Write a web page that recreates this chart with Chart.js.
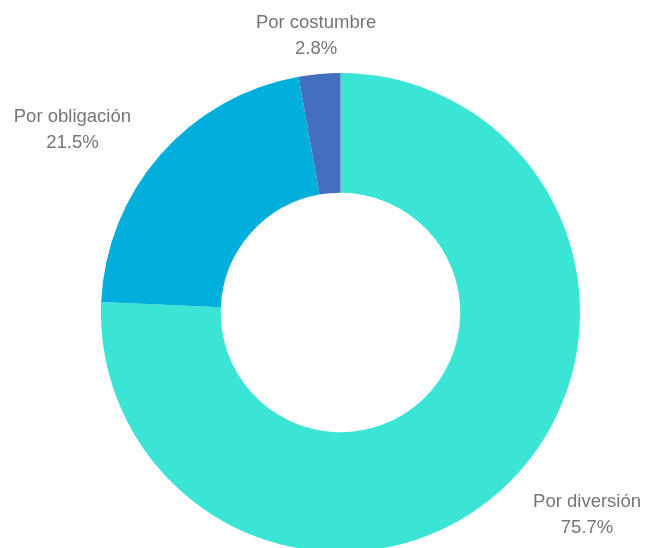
<!DOCTYPE html>
<html>
<head>
<meta charset="utf-8">
<script src="https://cdn.jsdelivr.net/npm/chart.js@4"></script>
<style>
  html, body { margin: 0; padding: 0; background: #fff; overflow: hidden; }
  #wrap { width: 648px; height: 560px; }
</style>
</head>
<body>
<div id="wrap"><canvas id="chart"></canvas></div>
<script>
const categories = ['Por diversión', 'Por obligación', 'Por costumbre'];
const shares = [75.7, 21.5, 2.8];
const sliceColors = ['#3AE5D5', '#02AEDB', '#436FBE'];

// writes name + percentage outside each slice, along its middle angle;
// the two lines are centred on each other and the block sits away from the ring
const outsideLabels = {
    id: 'outsideLabels',
    afterDatasetsDraw(chart) {
        const ctx = chart.ctx;
        const meta = chart.getDatasetMeta(0);
        ctx.save();
        ctx.font = '18.5px "Liberation Sans", Arial, sans-serif';
        ctx.fillStyle = '#757575';
        ctx.textBaseline = 'middle';
        ctx.textAlign = 'center';
        meta.data.forEach((arc, i) => {
            const p = arc.getProps(['x', 'y', 'startAngle', 'endAngle', 'outerRadius'], true);
            const mid = (p.startAngle + p.endAngle) / 2;
            const r = p.outerRadius + 39;
            const lines = [categories[i], shares[i].toFixed(1) + '%'];
            const w = Math.max(...lines.map(t => ctx.measureText(t).width));
            const c = Math.cos(mid);
            let x = p.x + c * r;
            const y = p.y + Math.sin(mid) * r + 1;
            if (Math.abs(c) >= 0.2) x += (c < 0 ? -w / 2 : w / 2);
            ctx.fillText(lines[0], x, y - 13);
            ctx.fillText(lines[1], x, y + 13);
        });
        ctx.restore();
    }
};

new Chart('chart', {
    type: 'doughnut',
    data: {
        labels: categories,
        datasets: [{
            data: shares,
            backgroundColor: sliceColors,
            borderWidth: 0
        }]
    },
    options: {
        responsive: true,
        maintainAspectRatio: false,
        animation: false,
        cutout: '50%',
        layout: {
            padding: { top: 73, bottom: 8, left: 101, right: 68 }
        },
        plugins: {
            legend: { display: false },
            tooltip: { enabled: false }
        }
    },
    plugins: [outsideLabels]
});
</script>
</body>
</html>
